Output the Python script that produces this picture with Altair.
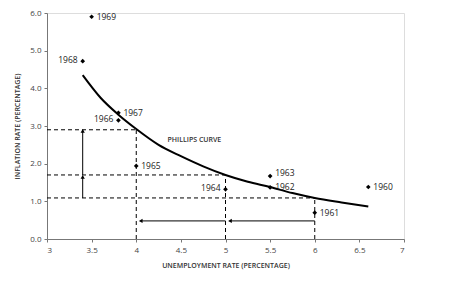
import altair as alt
import pandas as pd

# Observed data points (unemployment %, inflation %)
years = ["1960", "1961", "1962", "1963", "1964", "1965", "1966", "1967", "1968", "1969"]
unemp = [6.6, 6.0, 5.5, 5.5, 5.0, 4.0, 3.8, 3.8, 3.4, 3.5]
infl = [1.38, 0.70, 1.37, 1.67, 1.32, 1.94, 3.15, 3.35, 4.72, 5.9]
label_side = ["right", "right", "right", "up", "left", "right", "left", "right", "left", "right"]

# Phillips curve
curve_x = [3.4, 3.6, 3.8, 4.0, 4.25, 4.5, 4.75, 5.0, 5.25, 5.5, 5.75, 6.0, 6.3, 6.6]
curve_y = [4.35, 3.75, 3.3, 2.92, 2.5, 2.2, 1.93, 1.7, 1.52, 1.38, 1.22, 1.09, 0.97, 0.86]

# Dashed guide lines: unemployment level and matching inflation level
guide_u = [4.0, 5.0, 6.0]
guide_i = [2.9, 1.7, 1.09]

# Arrows
v_arrow_x = [3.4, 3.4]
v_arrow_from = [1.09, 1.7]
v_arrow_to = [1.65, 2.87]
h_arrow_y = [0.48, 0.48]
h_arrow_from = [6.0, 5.0]
h_arrow_to = [5.05, 4.05]

pts = pd.DataFrame({"year": years, "u": unemp, "i": infl, "side": label_side})
curve = pd.DataFrame({"u": curve_x, "i": curve_y})
guides = pd.DataFrame({"u": guide_u, "i": guide_i, "u0": [3.0] * 3, "i0": [0.0] * 3})
varr = pd.DataFrame({"u": v_arrow_x, "i0": v_arrow_from, "i": v_arrow_to})
harr = pd.DataFrame({"i": h_arrow_y, "u0": h_arrow_from, "u": h_arrow_to})

FONT = "Open Sans"
xs = alt.Scale(domain=[3, 7], nice=False, zero=False)
ys = alt.Scale(domain=[0, 6], nice=False)

common = dict(grid=False, tickSize=3, domainColor="#777", tickColor="#777", labelColor="#444",
              labelFont=FONT, labelFontSize=8, titleFont=FONT, titleFontSize=7,
              titleFontWeight=600, titleColor="#333", labelOverlap=False)
xax = alt.Axis(values=[3, 3.5, 4, 4.5, 5, 5.5, 6, 6.5, 7], labelExpr="datum.value",
               title="UNEMPLOYMENT RATE (PERCENTAGE)", labelPadding=4, titlePadding=7, **common)
yax = alt.Axis(values=[0, 1, 2, 3, 4, 5, 6], labelExpr="format(datum.value, '.1f')",
               title="INFLATION RATE (PERCENTAGE)", labelPadding=3, titlePadding=9, **common)


def X(f="u"):
    return alt.X(f"{f}:Q", scale=xs, axis=xax)


def Y(f="i"):
    return alt.Y(f"{f}:Q", scale=ys, axis=yax)


base_curve = alt.Chart(curve).mark_line(color="black", strokeWidth=2, interpolate="monotone").encode(x=X(), y=Y())

hdash = alt.Chart(guides).mark_rule(color="black", strokeDash=[4, 3], strokeWidth=1).encode(
    x=X("u0"), x2="u:Q", y=Y())
vdash = alt.Chart(guides).mark_rule(color="black", strokeDash=[4, 3], strokeWidth=1).encode(
    x=X(), y=Y("i0"), y2="i:Q")

vline = alt.Chart(varr).mark_rule(color="black", strokeWidth=1).encode(x=X(), y=Y("i0"), y2="i:Q")
vhead = alt.Chart(varr).mark_point(shape="triangle-up", filled=True, color="black", size=18, opacity=1).encode(
    x=X(), y=Y())
hline = alt.Chart(harr).mark_rule(color="black", strokeWidth=1).encode(x=X("u0"), x2="u:Q", y=Y())
hhead = alt.Chart(harr).mark_point(shape="triangle-left", filled=True, color="black", size=18, opacity=1).encode(
    x=X(), y=Y())

dots = alt.Chart(pts).mark_point(shape="diamond", filled=True, color="black", size=22, opacity=1).encode(
    x=X(), y=Y())
lab_r = alt.Chart(pts).transform_filter("datum.side == 'right'").mark_text(
    align="left", dx=5, dy=0, font=FONT, fontSize=8.5, color="#222").encode(x=X(), y=Y(), text="year:N")
lab_u = alt.Chart(pts).transform_filter("datum.side == 'up'").mark_text(
    align="left", dx=5, dy=-3, font=FONT, fontSize=8.5, color="#222").encode(x=X(), y=Y(), text="year:N")
lab_l = alt.Chart(pts).transform_filter("datum.side == 'left'").mark_text(
    align="right", dx=-5, dy=-1, font=FONT, fontSize=8.5, color="#222").encode(x=X(), y=Y(), text="year:N")

pc_label = pd.DataFrame({"u": [4.35], "i": [2.62], "t": ["PHILLIPS CURVE"]})
pc = alt.Chart(pc_label).mark_text(align="left", font=FONT, fontSize=7, fontWeight=600,
                                   color="#333").encode(x=X(), y=Y(), text="t:N")

chart = alt.layer(base_curve, hdash, vdash, vline, vhead, hline, hhead, dots, lab_r, lab_u, lab_l, pc).properties(
    width=357, height=226,
    autosize=alt.AutoSizeParams(type="none"),
    padding={"left": 47, "top": 13, "right": 58, "bottom": 59},
).configure_view(stroke=None).configure(background="white")

chart.save("out.html", embed_options={"renderer": "svg", "actions": False})
